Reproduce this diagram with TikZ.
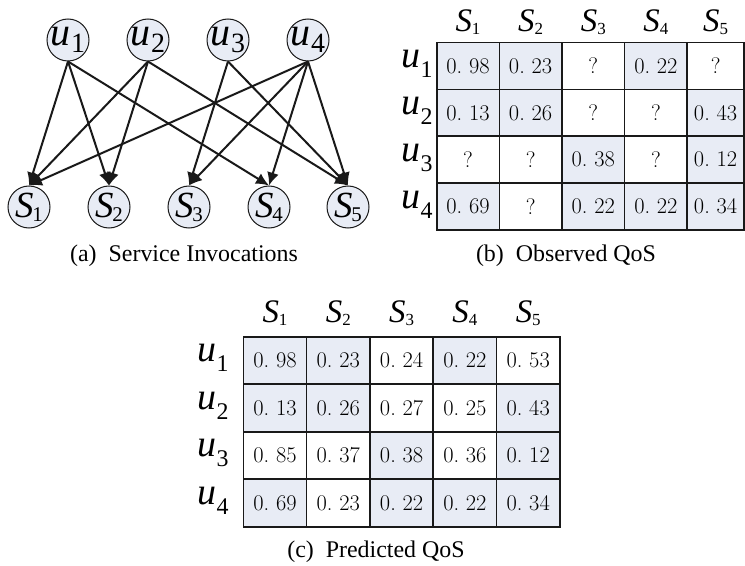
\documentclass[tikz,border=0pt]{standalone}
\usepackage{fontspec}
\newfontfamily\tms{Liberation Serif}
\usetikzlibrary{arrows.meta}
\definecolor{cellfill}{RGB}{232,236,245}
\definecolor{linecol}{RGB}{25,25,25}
\newcommand\fsz[1]{\fontsize{#1}{#1}\selectfont}
% letter, size, subsize, drop, kern, sub
\newcommand\mysym[6]{{\tms\fsz{#2}\itshape #1}\kern#5bp\raisebox{-#4bp}{\tms\fsz{#3}#6}}
\newcommand\ug[1]{\mysym{u}{40}{28}{7}{0.5}{#1}}
\newcommand\sg[1]{\mysym{S}{37}{21}{4}{-1}{#1}}
\newcommand\ut[1]{\mysym{u}{38}{24}{10}{0.5}{#1}}
\newcommand\st[1]{\mysym{S}{33}{17}{3}{0}{#1}}
\tikzset{
  gnode/.style={circle, draw=linecol, fill=cellfill, line width=1bp, minimum size=42bp, inner sep=0pt},
  arr/.style={draw=linecol, line width=2bp, -{Latex[length=13bp,width=12bp]}},
  qcell/.style={draw=linecol, line width=1.6bp, inner sep=0pt, font=\fsz{22.5}},
  cellb/.style={qcell, minimum width=62.6bp, minimum height=46.8bp},
  cellc/.style={qcell, minimum width=63.3bp, minimum height=47.5bp},
  obsv/.style={fill=cellfill},
  miss/.style={fill=white},
  captxt/.style={font=\tms\fsz{24}, inner sep=0pt},
  hdr/.style={inner sep=0pt},
}
\begin{document}
\begin{tikzpicture}[x=1bp,y=-1bp]
\useasboundingbox (0,0) rectangle (745,566);
% ---------------- (a) graph
\node[gnode, label=center:{\ug{1}}] (u1) at (68,40) {};
\node[gnode, label=center:{\ug{2}}] (u2) at (148,40) {};
\node[gnode, label=center:{\ug{3}}] (u3) at (228,40) {};
\node[gnode, label=center:{\ug{4}}] (u4) at (308,40) {};
\node[gnode, label=center:{\sg{1}}] (S1) at (29,207) {};
\node[gnode, label=center:{\sg{2}}] (S2) at (109,207) {};
\node[gnode, label=center:{\sg{3}}] (S3) at (189,207) {};
\node[gnode, label=center:{\sg{4}}] (S4) at (269,207) {};
\node[gnode, label=center:{\sg{5}}] (S5) at (348,207) {};
\draw[arr] (u1.south) -- (S1.north);
\draw[arr] (u1.south) -- (S2.north);
\draw[arr] (u1.south) -- (S4.north);
\draw[arr] (u2.south) -- (S1.north);
\draw[arr] (u2.south) -- (S2.north);
\draw[arr] (u2.south) -- (S5.north);
\draw[arr] (u3.south) -- (S3.north);
\draw[arr] (u3.south) -- (S5.north);
\draw[arr] (u4.south) -- (S1.north);
\draw[arr] (u4.south) -- (S3.north);
\draw[arr] (u4.south) -- (S4.north);
\draw[arr] (u4.south) -- (S5.north);
\node[captxt] (capa) at (184,256) {(a)\ \ Service Invocations};
% ---------------- (b) observed
\node[hdr] (bh1) at (468,22) {\st{1}};
\node[hdr] (bh2) at (530.6,22) {\st{2}};
\node[hdr] (bh3) at (593.3,22) {\st{3}};
\node[hdr] (bh4) at (655.9,22) {\st{4}};
\node[hdr] (bh5) at (715.6,22) {\st{5}};
\node[hdr] (bu1) at (417,64) {\ut{1}};
\node[hdr] (bu2) at (417,111) {\ut{2}};
\node[hdr] (bu3) at (417,158) {\ut{3}};
\node[hdr] (bu4) at (417,205) {\ut{4}};
% row 1
\node[cellb,obsv] (b11) at (468,66.1) {0.\ 98};
\node[cellb,obsv] (b12) at (530.6,66.1) {0.\ 23};
\node[cellb,miss] (b13) at (593.3,66.1) {?};
\node[cellb,obsv] (b14) at (655.9,66.1) {0.\ 22};
\node[cellb,miss,minimum width=56.8bp] (b15) at (715.6,66.1) {?};
% row 2
\node[cellb,obsv] (b21) at (468,112.9) {0.\ 13};
\node[cellb,obsv] (b22) at (530.6,112.9) {0.\ 26};
\node[cellb,miss] (b23) at (593.3,112.9) {?};
\node[cellb,miss] (b24) at (655.9,112.9) {?};
\node[cellb,obsv,minimum width=56.8bp] (b25) at (715.6,112.9) {0.\ 43};
% row 3
\node[cellb,miss] (b31) at (468,159.7) {?};
\node[cellb,miss] (b32) at (530.6,159.7) {?};
\node[cellb,obsv] (b33) at (593.3,159.7) {0.\ 38};
\node[cellb,miss] (b34) at (655.9,159.7) {?};
\node[cellb,obsv,minimum width=56.8bp] (b35) at (715.6,159.7) {0.\ 12};
% row 4
\node[cellb,obsv] (b41) at (468,206.5) {0.\ 69};
\node[cellb,miss] (b42) at (530.6,206.5) {?};
\node[cellb,obsv] (b43) at (593.3,206.5) {0.\ 22};
\node[cellb,obsv] (b44) at (655.9,206.5) {0.\ 22};
\node[cellb,obsv,minimum width=56.8bp] (b45) at (715.6,206.5) {0.\ 34};
\node[captxt] (capb) at (566,256) {(b)\ \ Observed QoS};
% ---------------- (c) predicted
\node[hdr] (ch1) at (275,313) {\st{1}};
\node[hdr] (ch2) at (338.3,313) {\st{2}};
\node[hdr] (ch3) at (401.6,313) {\st{3}};
\node[hdr] (ch4) at (464.9,313) {\st{4}};
\node[hdr] (ch5) at (528.2,313) {\st{5}};
\node[hdr] (cu1) at (213,358) {\ut{1}};
\node[hdr] (cu2) at (213,406) {\ut{2}};
\node[hdr] (cu3) at (213,453) {\ut{3}};
\node[hdr] (cu4) at (213,501) {\ut{4}};
% row 1
\node[cellc,obsv] (c11) at (275,360.5) {0.\ 98};
\node[cellc,obsv] (c12) at (338.3,360.5) {0.\ 23};
\node[cellc,miss] (c13) at (401.6,360.5) {0.\ 24};
\node[cellc,obsv] (c14) at (464.9,360.5) {0.\ 22};
\node[cellc,miss] (c15) at (528.2,360.5) {0.\ 53};
% row 2
\node[cellc,obsv] (c21) at (275,408) {0.\ 13};
\node[cellc,obsv] (c22) at (338.3,408) {0.\ 26};
\node[cellc,miss] (c23) at (401.6,408) {0.\ 27};
\node[cellc,miss] (c24) at (464.9,408) {0.\ 25};
\node[cellc,obsv] (c25) at (528.2,408) {0.\ 43};
% row 3
\node[cellc,miss] (c31) at (275,455.5) {0.\ 85};
\node[cellc,miss] (c32) at (338.3,455.5) {0.\ 37};
\node[cellc,obsv] (c33) at (401.6,455.5) {0.\ 38};
\node[cellc,miss] (c34) at (464.9,455.5) {0.\ 36};
\node[cellc,obsv] (c35) at (528.2,455.5) {0.\ 12};
% row 4
\node[cellc,obsv] (c41) at (275,503) {0.\ 69};
\node[cellc,miss] (c42) at (338.3,503) {0.\ 23};
\node[cellc,obsv] (c43) at (401.6,503) {0.\ 22};
\node[cellc,obsv] (c44) at (464.9,503) {0.\ 22};
\node[cellc,obsv] (c45) at (528.2,503) {0.\ 34};
\node[captxt] (capc) at (376,552) {(c)\ \ Predicted QoS};
\end{tikzpicture}
\end{document}
